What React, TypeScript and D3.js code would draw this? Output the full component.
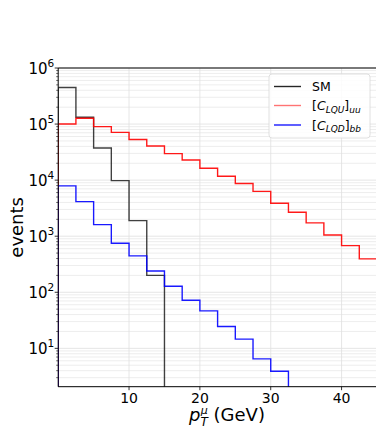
import * as d3 from "d3";

const binStarts = [0, 2.5, 5, 7.5, 10, 12.5, 15, 17.5, 20, 22.5, 25, 27.5, 30, 32.5, 35, 37.5, 40, 42.5];
const binWidth = 2.5;

const smValues = [4.5e5, 1.32e5, 3.75e4, 9.8e3, 1.9e3, 200, 0, 0, 0, 0, 0, 0, 0, 0, 0, 0, 0, 0];
const lquValues = [1.0e5, 1.27e5, 9.0e4, 7.1e4, 5.3e4, 4.07e4, 2.97e4, 2.29e4, 1.63e4, 1.17e4, 8.7e3, 6.3e3, 3.87e3, 2.68e3, 1.73e3, 1.05e3, 679, 394];
const lqdValues = [7.9e3, 4.14e3, 1.61e3, 750, 446, 240, 128, 72, 46.6, 24.5, 14.6, 6.5, 3.9, 0, 0, 0, 0, 0];

const xTicks = [10, 20, 30, 40];
const yDecades = [1, 2, 3, 4, 5, 6];

const W = 376;
const H = 430;
const left = 58.2;
const right = 377;
const top = 68;
const bottom = 386.7;

const font = "DejaVu Sans, sans-serif";

export default function App() {
  const x = d3.scaleLinear().domain([0, 45]).range([left, right]);
  const y = d3.scaleLog().domain([2.07, 1e6]).range([bottom, top]);

  // histtype="step": up from the floor, across each bin, back down after the last filled bin
  const stepPath = (vals: number[]) => {
    let d = "";
    let open = false;
    vals.forEach((v, i) => {
      const x0 = x(binStarts[i]);
      const x1 = x(binStarts[i] + binWidth);
      if (v > 0) {
        const yy = y(v);
        if (!open) {
          d += `M${x0},${bottom + 2}L${x0},${yy}`;
          open = true;
        } else {
          d += `L${x0},${yy}`;
        }
        d += `L${x1},${yy}`;
      } else if (open) {
        d += `L${x0},${bottom + 2}`;
        open = false;
      }
    });
    if (open) d += `L${x(binStarts[vals.length - 1] + binWidth)},${bottom + 2}`;
    return d;
  };

  const minor: number[] = [];
  for (let k = 0; k <= 5; k++) {
    for (let m = 2; m <= 9; m++) {
      const v = m * Math.pow(10, k);
      if (v >= 2.07 && v <= 1e6) minor.push(v);
    }
  }

  const series = [
    { name: "SM", vals: smValues, color: "#000", opacity: 0.75 },
    { name: "lqu", vals: lquValues, color: "#ff0000", opacity: 0.9 },
    { name: "lqd", vals: lqdValues, color: "#0000ff", opacity: 0.9 },
  ];

  return (
    <svg width={W} height={H} style={{ position: "absolute", left: 0, top: 0, background: "#fff" }}>
      <defs>
        <clipPath id="plot">
          <rect x={left} y={top} width={right - left} height={bottom - top} />
        </clipPath>
      </defs>
      {/* grid */}
      <g>
        {minor.map((v) => (
          <line key={"mg" + v} x1={left} x2={right} y1={y(v)} y2={y(v)} stroke="#e8e8e8" strokeWidth={0.8} />
        ))}
        {yDecades.map((k) => (
          <line key={"yg" + k} x1={left} x2={right} y1={y(Math.pow(10, k))} y2={y(Math.pow(10, k))} stroke="#dedede" strokeWidth={0.8} />
        ))}
        {xTicks.map((t) => (
          <line key={"xg" + t} x1={x(t)} x2={x(t)} y1={top} y2={bottom} stroke="#e0e0e0" strokeWidth={0.8} />
        ))}
      </g>
      {/* histograms */}
      <g clipPath="url(#plot)">
        {series.map((s) => (
          <path key={s.name} d={stepPath(s.vals)} fill="none" stroke={s.color} strokeOpacity={s.opacity} strokeWidth={1.4} />
        ))}
      </g>
      {/* spines */}
      <line x1={left} x2={right} y1={top} y2={top} stroke="#000" strokeWidth={1} />
      <line x1={left} x2={left} y1={top} y2={bottom} stroke="#000" strokeWidth={1} />
      <line x1={left} x2={right} y1={bottom} y2={bottom} stroke="#000" strokeWidth={1} />
      {/* y ticks */}
      {minor.map((v) => (
        <line key={"mt" + v} x1={left - 2} x2={left} y1={y(v)} y2={y(v)} stroke="#000" strokeWidth={0.6} />
      ))}
      {yDecades.map((k) => (
        <g key={"yt" + k}>
          <line x1={left - 3.5} x2={left} y1={y(Math.pow(10, k))} y2={y(Math.pow(10, k))} stroke="#000" strokeWidth={0.8} />
          <text x={left - 4} y={y(Math.pow(10, k)) + 5.5} textAnchor="end" fontFamily={font} fontSize={15} fill="#000">
            10<tspan dy={-7} fontSize={10.5}>{k}</tspan>
          </text>
        </g>
      ))}
      {/* x ticks */}
      {xTicks.map((t) => (
        <g key={"xt" + t}>
          <line x1={x(t)} x2={x(t)} y1={bottom} y2={bottom + 3.5} stroke="#000" strokeWidth={0.8} />
          <text x={x(t)} y={403} textAnchor="middle" fontFamily={font} fontSize={14} fill="#000">
            {t}
          </text>
        </g>
      ))}
      {/* axis labels */}
      <text transform={`translate(23,${(top + bottom) / 2}) rotate(-90)`} textAnchor="middle" fontFamily={font} fontSize={18} fill="#000">
        events
      </text>
      <text x={227} y={421} textAnchor="middle" fontFamily={font} fontSize={18} fill="#000">
        <tspan fontStyle="italic">p</tspan>
        <tspan dy={5} fontSize={12} fontStyle="italic">T</tspan>
        <tspan dx={-7} dy={-12} fontSize={11} fontStyle="italic">μ</tspan>
        <tspan dy={7}> (GeV)</tspan>
      </text>
      {/* legend */}
      <g>
        <rect x={269} y={74} width={101} height={64} rx={3} fill="#fff" fillOpacity={0.85} stroke="#d8d8d8" strokeWidth={0.8} />
        <line x1={274} x2={301} y1={86.5} y2={86.5} stroke="#000" strokeOpacity={0.85} strokeWidth={1.4} />
        <text x={312} y={91} fontFamily={font} fontSize={12.5} fill="#000">SM</text>
        <line x1={274} x2={301} y1={105.5} y2={105.5} stroke="#ff0000" strokeOpacity={0.55} strokeWidth={1.4} />
        <text x={312} y={110} fontFamily={font} fontSize={12.5} fill="#000">
          [<tspan fontStyle="italic">C</tspan>
          <tspan dy={2.5} fontSize={9} fontStyle="italic">LQU</tspan>
          <tspan dy={-2.5}>]</tspan>
          <tspan dy={2.5} fontSize={9} fontStyle="italic">uu</tspan>
        </text>
        <line x1={274} x2={301} y1={125} y2={125} stroke="#0000ff" strokeOpacity={0.9} strokeWidth={1.4} />
        <text x={312} y={129.5} fontFamily={font} fontSize={12.5} fill="#000">
          [<tspan fontStyle="italic">C</tspan>
          <tspan dy={2.5} fontSize={9} fontStyle="italic">LQD</tspan>
          <tspan dy={-2.5}>]</tspan>
          <tspan dy={2.5} fontSize={9} fontStyle="italic">bb</tspan>
        </text>
      </g>
    </svg>
  );
}
